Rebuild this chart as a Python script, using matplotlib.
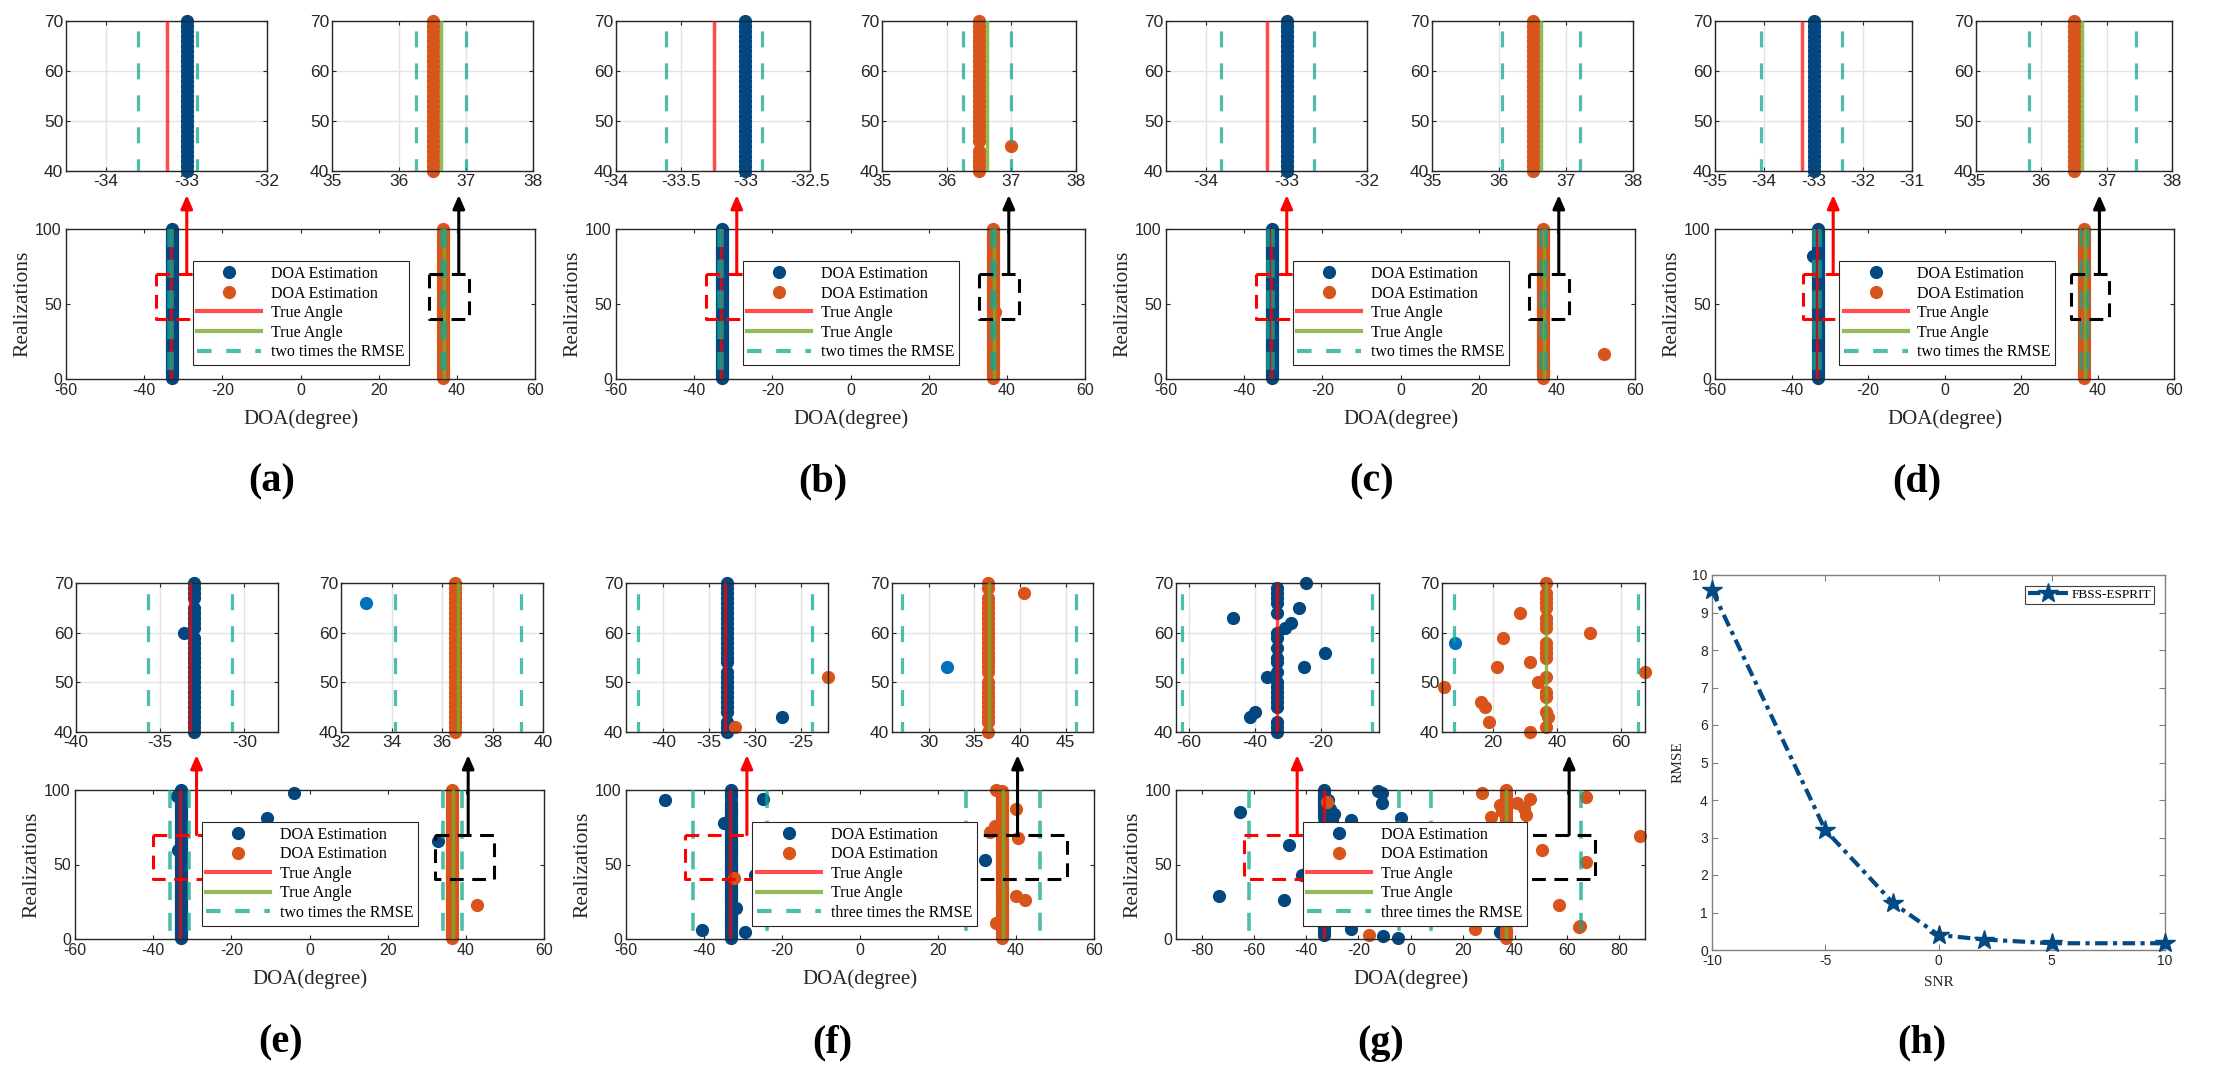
import numpy as np
import matplotlib
matplotlib.use('Agg')
import matplotlib.pyplot as plt
from matplotlib.lines import Line2D

plt.rcParams['font.family'] = ['Liberation Sans', 'DejaVu Sans']
plt.rcParams['axes.unicode_minus'] = False

W, H = 2226, 1082

# ---------------------------------------------------------
# data
# ---------------------------------------------------------
realizations = np.arange(1, 101)
true_left = -33.24
true_right = 36.63

panel_names = ['a', 'b', 'c', 'd', 'e', 'f', 'g']
blue_base = [-33.0, -33.0, -33.0, -33.0, -33.0, -33.1, -33.3]
orange_base = [36.5, 36.5, 36.5, 36.5, 36.5, 36.5, 36.7]
rmse_halfwidth = [0.37, 0.37, 0.58, 0.82, 2.5, 9.5, 28.9]
rmse_multiple = ['two', 'two', 'two', 'two', 'two', 'three', 'three']

# outliers as (realization, DOA estimate)
blue_out_a = []
orange_out_a = []
blue_out_b = []
orange_out_b = [(45, 37.0)]
blue_out_c = []
orange_out_c = [(17, 52.0)]
blue_out_d = [(82, -34.4)]
orange_out_d = []
blue_out_e = [(96, -33.8), (98, -4.0), (81, -11.0), (66, 33.0), (60, -33.6)]
orange_out_e = [(23, 42.8)]
blue_out_f = [(93, -49.9), (94, -24.9), (78, -35.0), (6, -40.4), (5, -29.4),
              (21, -31.8), (43, -27.0), (53, 32.0)]
orange_out_f = [(100, 34.9), (87, 40.0), (72, 33.4), (76, 34.6), (68, 40.5),
                (29, 40.0), (26, 42.2), (11, 34.9), (41, -32.2), (51, -22.0)]
blue_out_g = [(70, -24.6), (65, -26.5), (63, -46.6), (62, -29.1), (61, -30.9),
              (56, -18.7), (53, -25.0), (51, -36.2), (44, -39.9), (43, -41.5),
              (85, -65.6), (29, -73.5), (26, -48.4), (84, -29.2), (79, -30.3),
              (80, -22.9), (99, -12.3), (98, -11.0), (91, -11.0), (81, -3.5),
              (7, -22.9), (2, -10.5), (1, -4.8), (5, 34.2), (58, 8.0),
              (87, -31.0), (93, -31.5), (77, -31.5), (75, -30.0)]
orange_out_g = [(98, 27.6), (91, 40.8), (94, 45.8), (82, 30.9), (83, 44.5),
                (88, 43.4), (95, 67.5), (69, 88.1), (60, 50.5), (52, 67.5),
                (23, 57.0), (8, 64.6), (9, 65.0), (13, 42.4), (7, 24.9),
                (3, -16.0), (92, -31.9), (49, 4.6), (46, 16.2), (45, 17.6),
                (42, 18.6), (53, 21.1), (59, 23.0), (64, 28.5), (54, 31.7),
                (50, 34.1), (40, 31.7), (43, 37.3), (90, 34.5), (86, 35.0)]

blue_outliers = [blue_out_a, blue_out_b, blue_out_c, blue_out_d, blue_out_e, blue_out_f, blue_out_g]
orange_outliers = [orange_out_a, orange_out_b, orange_out_c, orange_out_d, orange_out_e, orange_out_f, orange_out_g]

inset1_xlim = [(-34.5, -32), (-34, -32.5), (-34.5, -32), (-35, -31), (-40, -28), (-44.1, -22.0), (-64, -2.3)]
inset1_xticks = [[-34, -33, -32], [-34, -33.5, -33, -32.5], [-34, -33, -32], [-35, -34, -33, -32, -31],
                 [-40, -35, -30], [-40, -35, -30, -25], [-60, -40, -20]]
inset2_xlim = [(35, 38), (35, 38), (35, 38), (35, 38), (32, 40), (26, 48), (4, 67.6)]
inset2_xticks = [[35, 36, 37, 38]] * 4 + [[32, 34, 36, 38, 40], [30, 35, 40, 45], [20, 40, 60]]
main_xlim = [(-60, 60)] * 6 + [(-90, 90)]
main_xticks = [list(range(-60, 61, 20))] * 6 + [list(range(-80, 81, 20))]

red_box_x = [(-37, -27)] * 4 + [(-40, -27), (-45, -27), (-64, -30)]
black_box_x = [(33, 43)] * 4 + [(32, 47.3), (26, 53), (4, 71)]
red_arrow_x = [-29.1] * 4 + [-28.9, -29.0, -43.5]
black_arrow_x = [40.5] * 4 + [40.6, 40.4, 60.9]

snr = [-10, -5, -2, 0, 2, 5, 10]
rmse = [9.6, 3.2, 1.25, 0.4, 0.28, 0.18, 0.18]

# ---------------------------------------------------------
# layout (figure pixels, top-left origin)
# ---------------------------------------------------------
inset1_px = [(66, 21, 267, 171), (616, 21, 810, 171), (1166, 21, 1367, 171), (1715, 21, 1912, 171),
             (76, 583, 278, 732), (626, 583, 828, 732), (1176, 583, 1379, 732)]
inset2_px = [(332, 21, 533, 171), (882, 21, 1076, 171), (1432, 21, 1633, 171), (1976, 21, 2172, 171),
             (341, 583, 543, 732), (892, 583, 1093, 732), (1442, 583, 1645, 732)]
main_px = [(66, 229, 535, 379), (616, 229, 1085, 379), (1166, 229, 1635, 379), (1715, 229, 2174, 379),
           (75, 790, 544, 939), (626, 790, 1094, 939), (1176, 790, 1645, 939)]
arrow_head_y = [195] * 4 + [755] * 3
label_px = [(272, 482), (823, 482), (1372, 482), (1917, 482),
            (281, 1043), (832, 1043), (1381, 1043), (1922, 1043)]
h_px = (1712, 575, 2165, 950)

BLUE = '#02477f'
BLUE_LIGHT = '#0072bd'
ORANGE = '#d9541a'
RED = '#ff0000'
GREEN = '#77ac30'
TEAL = '#12a88e'
AXC = '#262626'
SERIF = 'Liberation Serif'

fig = plt.figure(figsize=(W / 100, H / 100), dpi=100)


def px_axes(box):
    x0, y0, x1, y1 = box
    return fig.add_axes([x0 / W, 1 - y1 / H, (x1 - x0) / W, (y1 - y0) / H])


def style_axes(ax, size, color=AXC, length=3):
    ax.tick_params(direction='in', top=True, right=True, labelsize=size, length=length,
                   width=0.8, color=color, labelcolor=AXC, pad=3)
    for s in ax.spines.values():
        s.set_color(color)
        s.set_linewidth(1.0)


def series(base, outliers):
    vals = np.full(len(realizations), base, dtype=float)
    for r, v in outliers:
        vals[r - 1] = v
    return vals


def draw_dots(ax, x, color, xlim, ylim, z):
    tol = 0.005 * (xlim[1] - xlim[0])
    m = (x >= xlim[0] - tol) & (x <= xlim[1] + tol) & (realizations >= ylim[0]) & (realizations <= ylim[1])
    ax.plot(x[m], realizations[m], ls='none', marker='o', ms=8.5, color=color, mec=color,
            clip_on=False, zorder=z)


for i, name in enumerate(panel_names):
    blue = series(blue_base[i], blue_outliers[i])
    orange = series(orange_base[i], orange_outliers[i])
    hw = rmse_halfwidth[i]

    # ---- zoomed insets ----
    for k, (box, xlim, xt) in enumerate([(inset1_px[i], inset1_xlim[i], inset1_xticks[i]),
                                          (inset2_px[i], inset2_xlim[i], inset2_xticks[i])]):
        ax = px_axes(box)
        ax.set_xlim(*xlim)
        ax.set_ylim(40, 70)
        ax.set_xticks(xt)
        ax.set_xticklabels([f'{t:g}' for t in xt])
        ax.set_yticks([40, 50, 60, 70])
        ax.grid(True, color='#e3e3e3', lw=1.0)
        ax.set_axisbelow(True)
        style_axes(ax, 12.5)
        ax.tick_params(pad=2)
        draw_dots(ax, blue, BLUE if k == 0 else BLUE_LIGHT, xlim, (40, 70), 2)
        draw_dots(ax, orange, ORANGE, xlim, (40, 70), 2.1)
        ax.plot([true_left] * 2, [0, 100], color=RED, alpha=0.7, lw=2.5, zorder=3)
        ax.plot([true_right] * 2, [0, 100], color=GREEN, alpha=0.8, lw=2.5, zorder=3)
        for c in (true_left, true_right):
            for s in (-1, 1):
                ax.plot([c + s * hw] * 2, [100, 0], color=TEAL, alpha=0.75, lw=2.3,
                        dashes=(5, 5), zorder=3.5)

    # ---- full view ----
    ax = px_axes(main_px[i])
    xlim = main_xlim[i]
    ax.set_xlim(*xlim)
    ax.set_ylim(0, 100)
    ax.set_xticks(main_xticks[i])
    ax.set_xticklabels([f'{t:g}' for t in main_xticks[i]])
    ax.set_yticks([0, 50, 100])
    style_axes(ax, 11.5)
    draw_dots(ax, blue, BLUE, xlim, (0, 100), 2)
    draw_dots(ax, orange, ORANGE, xlim, (0, 100), 2.1)
    ax.plot([true_left] * 2, [0, 100], color=RED, alpha=0.7, lw=2.5, zorder=3)
    ax.plot([true_right] * 2, [0, 100], color=GREEN, alpha=0.8, lw=2.5, zorder=3)
    for c in (true_left, true_right):
        for s in (-1, 1):
            ax.plot([c + s * hw] * 2, [100, 0], color=TEAL, alpha=0.75, lw=2.6,
                    dashes=(5, 3.5), zorder=3.5)

    for (x0, x1), col in [(red_box_x[i], 'red'), (black_box_x[i], 'black')]:
        ax.plot([x0, x1, x1, x0, x0], [70, 70, 40, 40, 70], color=col, lw=2.2,
                dashes=(4.5, 2.8), zorder=4)

    for xa, col in [(red_arrow_x[i], 'red'), (black_arrow_x[i], 'black')]:
        ax.annotate('', xy=(xa, 1 - arrow_head_y[i] / H), xycoords=('data', 'figure fraction'),
                    xytext=(xa, 70), textcoords='data', annotation_clip=False,
                    arrowprops=dict(arrowstyle='-|>,head_length=0.8,head_width=0.35', color=col,
                                    lw=2.2, shrinkA=0, shrinkB=0), zorder=6)

    handles = [Line2D([], [], ls='none', marker='o', ms=8.5, color=BLUE),
               Line2D([], [], ls='none', marker='o', ms=8.5, color=ORANGE),
               Line2D([], [], color=RED, alpha=0.7, lw=3),
               Line2D([], [], color=GREEN, alpha=0.8, lw=3),
               Line2D([], [], color=TEAL, alpha=0.75, lw=3, dashes=(3.5, 3.5))]
    labels = ['DOA Estimation', 'DOA Estimation', 'True Angle', 'True Angle',
              f'{rmse_multiple[i]} times the RMSE']
    leg = ax.legend(handles, labels, loc='upper left', bbox_to_anchor=(0.27, 0.785),
                    borderaxespad=0, fancybox=False, framealpha=1, edgecolor=AXC,
                    prop={'family': SERIF, 'size': 11.5}, handlelength=4.0,
                    handletextpad=0.6, labelspacing=0.22, borderpad=0.3)
    leg.get_frame().set_linewidth(0.8)
    leg.set_zorder(5)

    ax.set_xlabel('DOA(degree)', family=SERIF, fontsize=15, labelpad=8, color=AXC)
    ax.set_ylabel('Realizations', family=SERIF, fontsize=15.5, labelpad=2, color=AXC)

# ---- (h) RMSE versus SNR ----
ax = px_axes(h_px)
ax.plot(snr, rmse, color='#034a85', lw=3, dashes=(3, 1.3, 1, 1.3), marker='*', ms=15,
        clip_on=False, zorder=3, label='FBSS-ESPRIT')
ax.set_xlim(-10, 10)
ax.set_ylim(0, 10)
ax.set_xticks([-10, -5, 0, 5, 10])
ax.set_yticks(range(0, 11))
style_axes(ax, 10, color='#808080', length=4)
ax.set_xlabel('SNR', family=SERIF, fontsize=11, labelpad=6, color=AXC)
ax.set_ylabel('RMSE', family=SERIF, fontsize=11, labelpad=6, color=AXC)
leg = ax.legend(loc='upper right', fancybox=False, framealpha=1, edgecolor='#404040',
                prop={'family': SERIF, 'size': 9.5}, handlelength=3.0, borderaxespad=0.8,
                borderpad=0.25, handletextpad=0.3)
leg.get_frame().set_linewidth(0.8)

for (x, y), name in zip(label_px, panel_names + ['h']):
    fig.text(x / W, 1 - y / H, f'({name})', ha='center', va='center', fontsize=29,
             fontweight='bold', family=SERIF)

fig.savefig('out.png', dpi=100)
